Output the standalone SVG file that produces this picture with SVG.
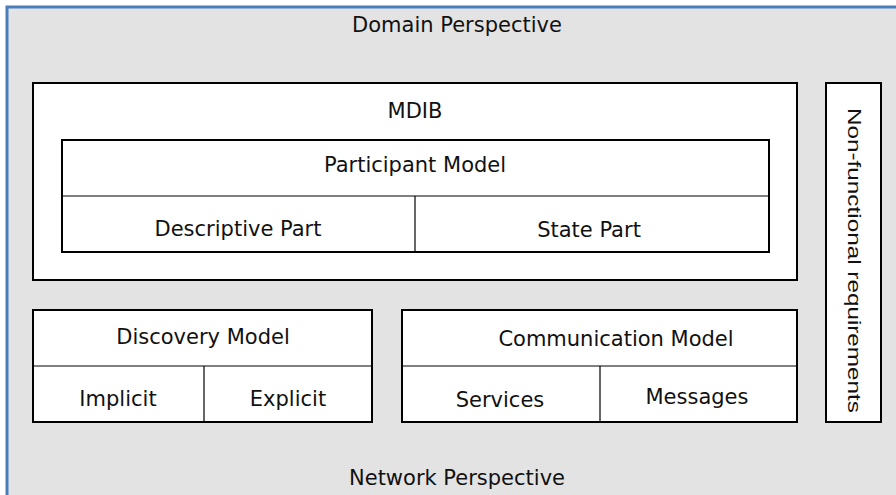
<svg xmlns="http://www.w3.org/2000/svg" width="896" height="495" viewBox="0 0 896 495">
<style>
.box{fill:#ffffff;stroke:#000000;stroke-width:2}
.div{stroke:#000000;stroke-width:1.2;fill:none}
.lbl{font-family:"DejaVu Sans",Verdana,sans-serif;font-size:21px;fill:#111111;text-anchor:middle}
.rot{font-family:"Liberation Sans",Arial,sans-serif;font-size:18px;fill:#111111;text-anchor:middle}
</style>
<rect x="0" y="0" width="896" height="495" fill="#ffffff"/>
<g id="frame">
<rect x="7" y="7" width="900" height="500" fill="#e3e3e3" stroke="#4a7ebb" stroke-width="3"/>
<text class="lbl" x="457" y="31.5">Domain Perspective</text>
<text class="lbl" x="457" y="485">Network Perspective</text>
</g>
<g id="mdib">
<rect class="box" x="33" y="83" width="764" height="197"/>
<text class="lbl" x="415" y="117.5">MDIB</text>
</g>
<g id="participant-model">
<rect class="box" x="62" y="140" width="707" height="112"/>
<line class="div" x1="62" y1="196" x2="769" y2="196"/>
<line class="div" x1="415" y1="196" x2="415" y2="252"/>
<text class="lbl" x="415" y="172">Participant Model</text>
<text class="lbl" x="238" y="236">Descriptive Part</text>
<text class="lbl" x="589" y="237">State Part</text>
</g>
<g id="non-functional">
<rect class="box" x="826" y="83" width="55" height="339"/>
<text class="rot" x="848" y="260.5" transform="rotate(90 848 260.5)" textLength="305" lengthAdjust="spacingAndGlyphs">Non-functional requirements</text>
</g>
<g id="discovery-model">
<rect class="box" x="33" y="310" width="339" height="112"/>
<line class="div" x1="33" y1="366" x2="372" y2="366"/>
<line class="div" x1="204" y1="366" x2="204" y2="422"/>
<text class="lbl" x="203" y="343.5">Discovery Model</text>
<text class="lbl" x="118" y="406">Implicit</text>
<text class="lbl" x="288" y="406">Explicit</text>
</g>
<g id="communication-model">
<rect class="box" x="402" y="310" width="395" height="112"/>
<line class="div" x1="402" y1="366" x2="797" y2="366"/>
<line class="div" x1="600" y1="366" x2="600" y2="422"/>
<text class="lbl" x="616" y="346">Communication Model</text>
<text class="lbl" x="500" y="407">Services</text>
<text class="lbl" x="697" y="404">Messages</text>
</g>
<g id="connectors"></g>
</svg>
